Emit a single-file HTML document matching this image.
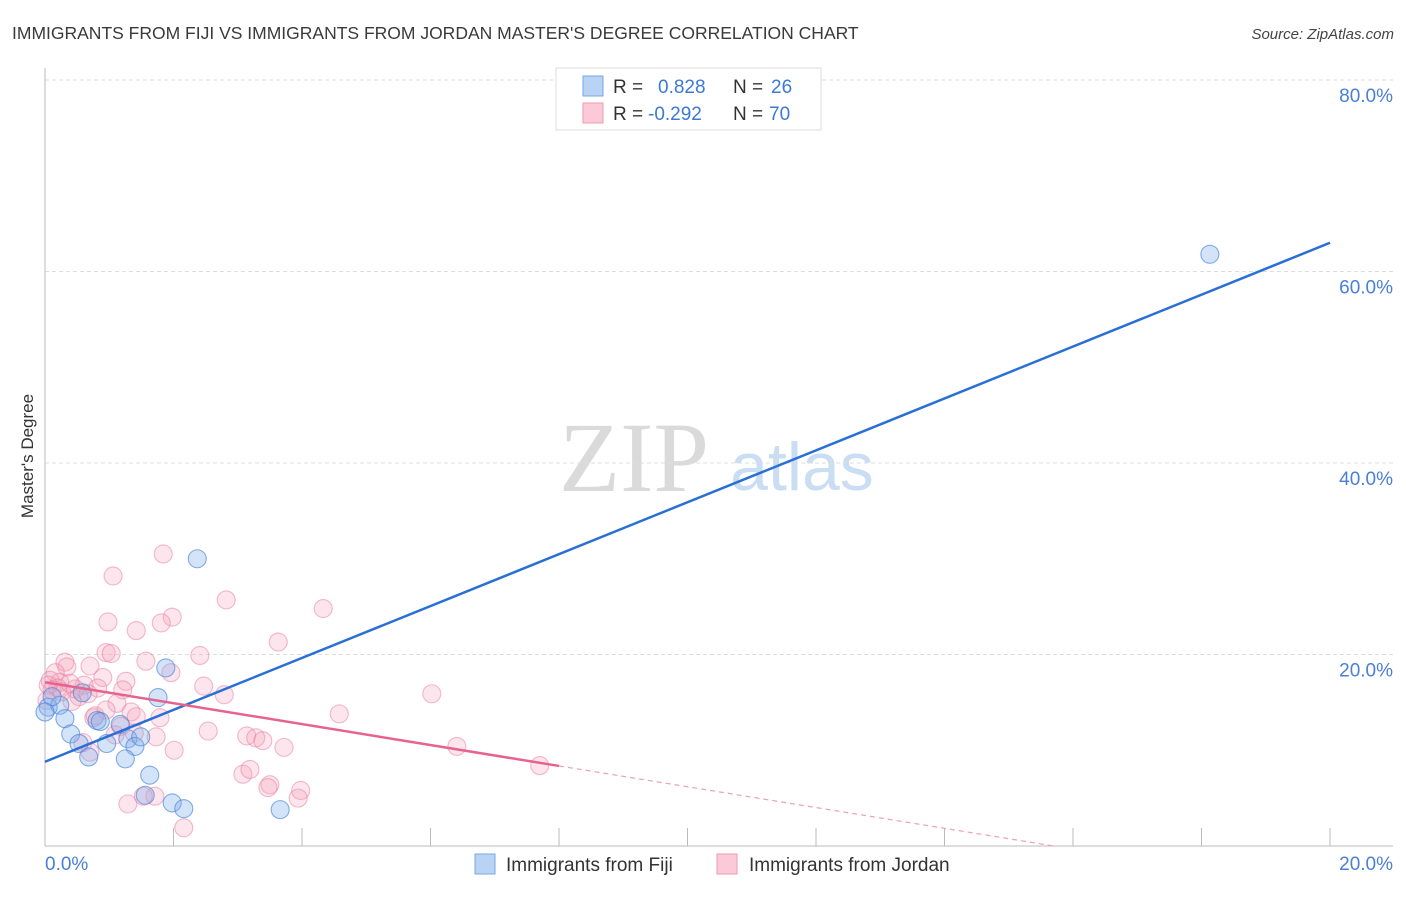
<!DOCTYPE html>
<html><head><meta charset="utf-8"><style>
body{margin:0;background:#fff;font-family:"Liberation Sans",sans-serif;}
</style></head><body>
<svg id="chart" width="1406" height="892" xmlns="http://www.w3.org/2000/svg" font-family="Liberation Sans, sans-serif">
<text x="12" y="39" font-size="17.5" fill="#3a3a3a">IMMIGRANTS FROM FIJI VS IMMIGRANTS FROM JORDAN MASTER'S DEGREE CORRELATION CHART</text>
<text x="1394" y="39" font-size="15" fill="#444" font-style="italic" text-anchor="end">Source: ZipAtlas.com</text>
<text x="33" y="456" font-size="17" fill="#333" text-anchor="middle" transform="rotate(-90 33 456)">Master's Degree</text>
<g>
<text x="634" y="491" font-size="100" style="font-family:'Liberation Serif',serif" fill="#dadada" text-anchor="middle">ZIP</text>
<text x="802" y="490" font-size="68" fill="#c9ddf3" text-anchor="middle">atlas</text>
</g>
<g id="grid"></g>
<g id="axes"></g>
<g id="pts"></g>
<g id="lines"></g>
<g>
<rect x="556" y="68" width="265" height="62" fill="#fff" stroke="#ddd"/>
<rect x="583" y="76" width="20" height="20" fill="#b9d3f5" stroke="#78a6e3"/>
<rect x="583" y="103" width="20" height="20" fill="#fbc9d7" stroke="#ee9ab3"/>
<text x="613" y="93" font-size="19" fill="#333">R =</text>
<text x="658" y="93" font-size="19" fill="#3b78d8">0.828</text>
<text x="733" y="93" font-size="19" fill="#333">N =</text>
<text x="771" y="93" font-size="19" fill="#3b78d8">26</text>
<text x="613" y="120" font-size="19" fill="#333">R =</text>
<text x="648" y="120" font-size="19" fill="#3b78d8">-0.292</text>
<text x="733" y="120" font-size="19" fill="#333">N =</text>
<text x="769" y="120" font-size="19" fill="#3b78d8">70</text>
</g>
<g>
<rect x="475" y="854" width="20" height="20" fill="#b9d3f5" stroke="#78a6e3"/>
<text x="506" y="871" font-size="19" fill="#333">Immigrants from Fiji</text>
<rect x="717" y="854" width="20" height="20" fill="#fbc9d7" stroke="#ee9ab3"/>
<text x="749" y="871" font-size="19" fill="#333">Immigrants from Jordan</text>
</g>
</svg>
<script>
const fijiX=[18.13,2.37,1.88,1.76,0.05,0.23,0.58,0.31,0.40,0.81,0.53,0.96,0.68,1.17,1.29,1.40,1.49,1.25,1.63,1.56,1.98,2.16,3.66,0.11,0.0,0.86];
const fijiY=[61.8,30.0,18.6,15.5,14.5,14.7,16.0,13.3,11.7,13.1,10.7,10.7,9.3,12.7,11.2,10.4,11.4,9.1,7.4,5.3,4.5,3.9,3.8,15.6,14.0,13.0];
const jordanX=[1.84,1.06,2.82,4.33,1.98,0.98,1.81,1.42,3.63,2.41,0.95,1.03,1.57,0.31,0.70,0.34,0.16,1.96,0.90,0.08,0.23,0.61,1.26,2.47,0.47,0.82,1.21,2.79,6.02,0.11,0.26,0.67,1.12,1.34,0.53,4.58,0.76,1.42,1.18,2.54,3.14,3.28,3.39,3.72,1.73,2.01,6.41,7.70,0.59,0.70,1.39,3.08,3.19,3.50,3.47,3.98,3.94,1.71,1.53,1.29,2.16,0.20,0.39,0.05,0.42,0.95,0.78,1.79,1.09,0.03];
const jordanY=[30.5,28.2,25.7,24.8,23.9,23.4,23.3,22.5,21.3,19.9,20.2,20.1,19.3,19.2,18.8,18.7,18.1,18.1,17.6,17.3,17.1,16.8,17.2,16.7,16.4,16.5,16.3,15.8,15.9,16.3,16.1,15.9,14.9,14.0,15.6,13.8,13.4,13.5,12.5,12.0,11.5,11.3,11.0,10.3,11.4,10.0,10.4,8.4,10.8,9.8,11.8,7.5,8.0,6.4,6.1,5.8,5.0,5.2,5.2,4.4,1.9,16.5,17.0,16.8,15.1,14.2,13.6,13.4,11.6,15.2];
const yTicks=[20,40,60,80];
const yTickLabels=["20.0%","40.0%","60.0%","80.0%"];
const xTicks=[2,4,6,8,10,12,14,16,18,20];
const fijiLine=[[0,8.8],[20,63.0]];
const jordanLine=[[0,17.1],[8,8.36]];
const jordanDash=[[8,8.36],[15.7,0]];

const NS="http://www.w3.org/2000/svg";
const X=v=>45+v*64.25, Y=v=>846-v*9.575;
function mk(tag,attrs,parent){const e=document.createElementNS(NS,tag);for(const k in attrs)e.setAttribute(k,attrs[k]);document.getElementById(parent).appendChild(e);return e;}
yTicks.forEach((t,i)=>{
  const g=mk('line',{x1:45,x2:1393,y1:Y(t),y2:Y(t),stroke:'#ddd','stroke-dasharray':'4,3'},'grid');
  
  
  const l=mk('text',{x:1393,y:Y(t)+22,'font-size':19,fill:'#4a7fd6','text-anchor':'end'},'axes');
  l.textContent=yTickLabels[i];
  
  
});
const ax=mk('line',{x1:45,x2:1393,y1:846,y2:846,stroke:'#bbb'},'axes');


const ay=mk('line',{x1:45,x2:45,y1:68,y2:846,stroke:'#bbb'},'axes');


xTicks.forEach(t=>{
  const k=mk('line',{x1:X(t),x2:X(t),y1:828,y2:846,stroke:'#bbb'},'axes');
  
  
});
const x0=mk('text',{x:45,y:870,'font-size':19,fill:'#4a7fd6'},'axes');x0.textContent='0.0%';


const x1=mk('text',{x:1393,y:870,'font-size':19,fill:'#4a7fd6','text-anchor':'end'},'axes');x1.textContent='20.0%';


jordanX.forEach((v,i)=>{
  const c=mk('circle',{cx:X(v),cy:Y(jordanY[i]),r:9,fill:'rgba(244,160,188,0.28)',stroke:'rgba(232,120,156,0.5)','stroke-width':1.1},'pts');
  
  
});
fijiX.forEach((v,i)=>{
  const c=mk('circle',{cx:X(v),cy:Y(fijiY[i]),r:9,fill:'rgba(130,175,235,0.35)',stroke:'rgba(70,130,220,0.65)','stroke-width':1.1},'pts');
  
  
});
const fl=mk('line',{x1:X(fijiLine[0][0]),y1:Y(fijiLine[0][1]),x2:X(fijiLine[1][0]),y2:Y(fijiLine[1][1]),stroke:'#2a6fd6','stroke-width':2.5},'lines');


const jl=mk('line',{x1:X(jordanLine[0][0]),y1:Y(jordanLine[0][1]),x2:X(jordanLine[1][0]),y2:Y(jordanLine[1][1]),stroke:'#e8628f','stroke-width':2.5},'lines');


const jd=mk('line',{x1:X(jordanDash[0][0]),y1:Y(jordanDash[0][1]),x2:X(jordanDash[1][0]),y2:Y(jordanDash[1][1]),stroke:'#eaa0b8','stroke-width':1.2,'stroke-dasharray':'5,4'},'lines');


</script>
</body></html>
